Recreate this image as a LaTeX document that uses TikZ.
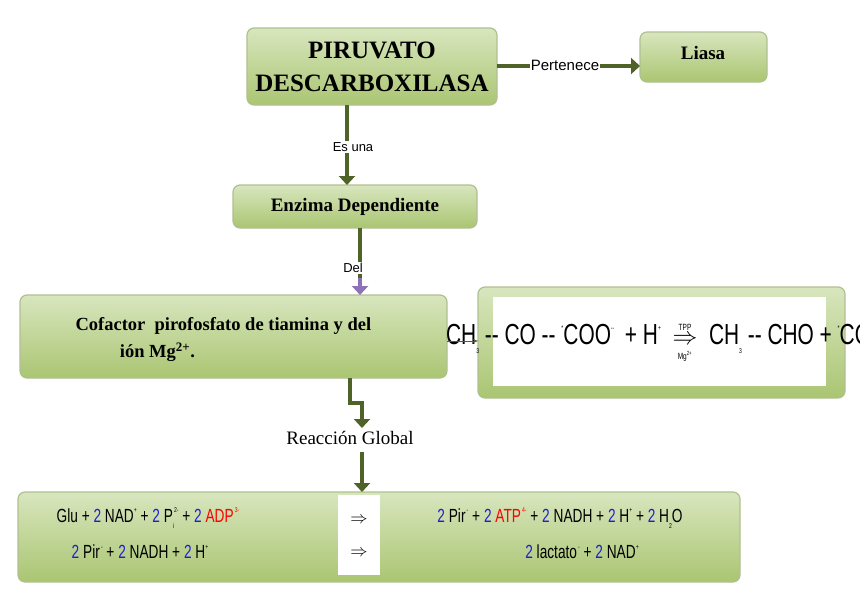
\documentclass[tikz,border=0pt]{standalone}
\usepackage{amsmath}
\usepackage{fontspec}
\setmainfont{Liberation Serif}
\newfontfamily\lsans{Liberation Sans}
\newfontfamily\narrow[FakeStretch=0.72]{Liberation Sans}
\usetikzlibrary{arrows.meta}
\definecolor{ag}{HTML}{4F6228}
\definecolor{gl}{HTML}{D8E6BE}
\definecolor{gd}{HTML}{9BBB59}
\definecolor{nb}{HTML}{1F1FD0}
\definecolor{pu}{HTML}{8E72B8}
\newcommand{\sps}[1]{\raisebox{0.5em}{\scriptsize #1}}
\newcommand{\sbs}[1]{\raisebox{-0.3em}{\scriptsize #1}}
\tikzset{
 gbox/.style={draw=gd!80!black!60, line width=1.2pt, rounded corners=7pt, top color=gl, bottom color=gd!85},
 arr/.style={draw=ag, line width=4pt, -{Triangle[length=9pt,width=16pt]}},
 lab/.style={fill=white, inner sep=1pt, font=\lsans\fontsize{15}{17}\selectfont},
 rx/.style={font=\narrow\fontsize{19}{21}\selectfont, inner sep=0pt}
}
\begin{document}
\begin{tikzpicture}[x=1pt,y=-1pt]
\useasboundingbox (0,0) rectangle (860,595);
% boxes
\path[gbox] (247,28) rectangle (497,105);
\node (pir) at (372,67) [align=center, font=\bfseries\fontsize{25}{33}\selectfont] {PIRUVATO\\DESCARBOXILASA};
\coordinate (pirE) at (497,66); \coordinate (pirS) at (347,105);
\path[gbox] (640,32) rectangle (767,82);
\node (lia) at (703,53) [font=\bfseries\fontsize{19}{21}\selectfont] {Liasa};
\coordinate (liaW) at (640,66);
\path[gbox] (233,185) rectangle (477,228);
\node (enz) at (355,207) [font=\bfseries\fontsize{19}{21}\selectfont] {Enzima Dependiente};
\coordinate (enzN) at (347,185); \coordinate (enzS) at (360,228);
\path[gbox] (20,295) rectangle (447,378);
\node (cof) at (72,340) [anchor=west, align=left, font=\bfseries\fontsize{18.5}{27}\selectfont] {Cofactor\ \ pirofosfato de tiamina y del\\\hspace*{2.4em}ión Mg\textsuperscript{2+}.};
\coordinate (cofN) at (360,295); \coordinate (cofE) at (447,341); \coordinate (cofS) at (350,378);
\path[gbox] (478,287) rectangle (845,398);
\fill[white] (493,297) rectangle (826,386);
\coordinate (reaW) at (478,341);
\node (rea) at (660,343) [font=\narrow\fontsize{29}{31}\selectfont, inner sep=0pt] {CH\sbs{3} -- CO -- \sps{*}COO\sps{--}\ \,+ H\sps{+}\ \ $\underset{\text{\narrow\fontsize{9}{10}\selectfont Mg\textsuperscript{2+}}}{\overset{\text{\narrow\fontsize{9}{10}\selectfont TPP}}{\Rightarrow}}$\ \ CH\sbs{3} -- CHO + \sps{*}CO\sbs{2}};
\path[gbox] (18,492) rectangle (740,582);
\fill[white] (338,495) rectangle (380,575);
\coordinate (botN) at (362,492);
\node[rx] (r1) at (148,518) {Glu + {\color{nb}2} NAD\sps{+} + {\color{nb}2} P\sbs{i}\sps{2-} + {\color{nb}2} {\color{red}ADP\sps{\,3-}}};
\node[rx] (r2) at (140,552) {{\color{nb}2} Pir\sps{\,-} + {\color{nb}2} NADH + {\color{nb}2} H\sps{+}};
\node[rx] (a1) at (359,520) {$\Rightarrow$};
\node[rx] (a2) at (359,553) {$\Rightarrow$};
\node[rx] (r3) at (560,518) {{\color{nb}2} Pir\sps{\,-} + {\color{nb}2} {\color{red}ATP\sps{\,4-}} + {\color{nb}2} NADH + {\color{nb}2} H\sps{+} + {\color{nb}2} H\sbs{2}O};
\node[rx] (r4) at (582,552) {{\color{nb}2} lactato\sps{\,-} + {\color{nb}2} NAD\sps{+}};
% connectors
\draw[arr] (pirE) -- (liaW);
\node[lab] (l1) at (565,65) {Pertenece};
\draw[arr] (pirS) -- (enzN);
\node[lab, font=\lsans\fontsize{13}{15}\selectfont] (l2) at (353,147) {Es una};
\draw[ag, line width=4pt] (enzS) -- (360,278);
\draw[pu, line width=4pt, -{Triangle[length=9pt,width=16pt]}] (360,278) -- (cofN);
\node[lab, font=\lsans\fontsize{13}{15}\selectfont] (l3) at (353,268) {Del};
\draw[ag, line width=0.6pt, -{Stealth[length=5pt]}] (cofE) -- (reaW);
\draw[arr] (cofS) -- (350,403) -- (362,403) -- (362,428);
\node[lab, font=\fontsize{19}{21}\selectfont] (l4) at (350,438) {Reacción Global};
\draw[arr] (362,452) -- (botN);
\end{tikzpicture}
\end{document}
